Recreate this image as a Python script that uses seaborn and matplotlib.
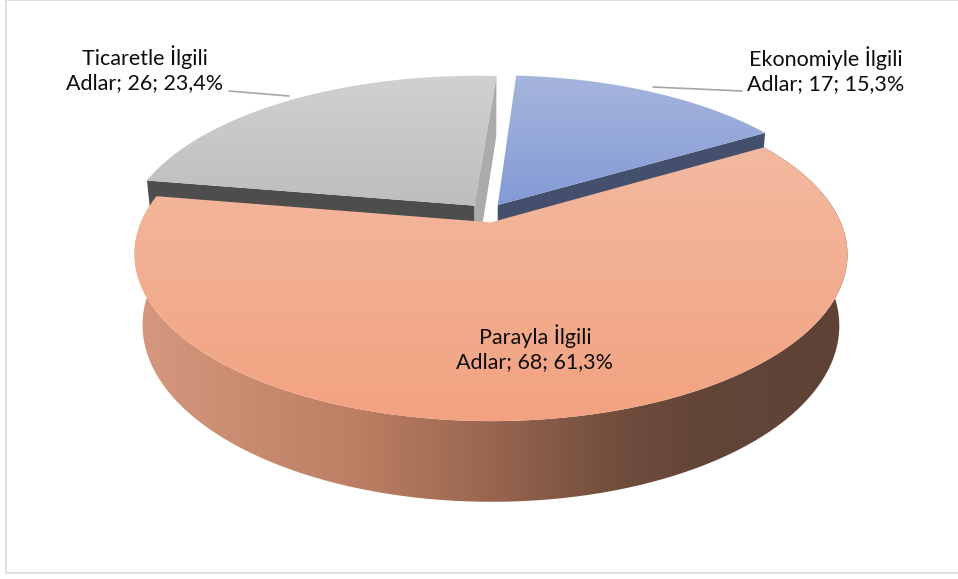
import numpy as np
import matplotlib
matplotlib.use("Agg")
import matplotlib.pyplot as plt
import seaborn as sns
from matplotlib.patches import Polygon, Rectangle

# data
categories = ["Ekonomiyle İlgili", "Parayla İlgili", "Ticaretle İlgili"]
values = [17, 68, 26]
series_name = "Adlar"

sns.set_theme(style="white")
plt.rcParams["font.family"] = ["Lato", "DejaVu Sans"]

W, H = 958, 579
fig = plt.figure(figsize=(W / 100, H / 100), dpi=100)
ax = fig.add_axes([0, 0, 1, 1])
ax.set_xlim(0, W)
ax.set_ylim(H, 0)
ax.axis("off")

# 3D pie geometry (pixels)
CX, CY = 487, 213
S = 346
TH = np.radians(27)
D = 4.7
DEPTH = 0.23
EXPLODE = 0.06
FIRST_ANGLE = 4


def proj(u, v, w, off):
    u = u + off[0]
    v = v + off[1]
    ys = v * np.sin(TH) + w * np.cos(TH)
    d = -v * np.cos(TH) + w * np.sin(TH)
    f = D / (D - d)
    return CX + S * u * f, CY - S * ys * f


def rim(a0, a1, w, off, n=120):
    a = np.radians(np.linspace(a0, a1, n))
    x, y = proj(np.sin(a), np.cos(a), w, off)
    return np.column_stack([x, y])


def grad_fill(poly, stops, vertical=True):
    # gradient image clipped to a polygon
    patch = Polygon(poly, closed=True, facecolor="none", edgecolor="none")
    ax.add_patch(patch)
    pos = np.array([s[0] for s in stops], dtype=float)
    cols = np.array([s[1] for s in stops], dtype=float) / 255
    xs = np.linspace(0, W, 480)
    ys = np.linspace(0, H, 290)
    if vertical:
        g = np.stack([np.interp(ys, pos, cols[:, i]) for i in range(3)], -1)
        img = np.repeat(g[:, None, :], len(xs), axis=1)
    else:
        g = np.stack([np.interp(xs, pos, cols[:, i]) for i in range(3)], -1)
        img = np.repeat(g[None, :, :], len(ys), axis=0)
    im = ax.imshow(img, extent=[0, W, H, 0], origin="upper",
                   interpolation="bilinear", zorder=patch.get_zorder())
    im.set_clip_path(patch)
    return patch


def radial_face(ang, off, color):
    a = np.radians(ang)
    p = [proj(0, 0, 0, off), proj(np.sin(a), np.cos(a), 0, off),
         proj(np.sin(a), np.cos(a), -DEPTH, off), proj(0, 0, -DEPTH, off)]
    ax.add_patch(Polygon(p, closed=True, facecolor=color, edgecolor="none"))


total = sum(values)
pct = [v / total * 100 for v in values]
starts = FIRST_ANGLE + np.concatenate([[0], np.cumsum(values)[:-1]]) / total * 360
ends = FIRST_ANGLE + np.cumsum(values) / total * 360
offs = []
for a0, a1 in zip(starts, ends):
    mid = np.radians((a0 + a1) / 2)
    offs.append((EXPLODE * np.sin(mid), EXPLODE * np.cos(mid)))

top_stops = {
    0: [(75, (166, 181, 221)), (215, (128, 152, 213))],
    1: [(140, (242, 186, 161)), (420, (243, 162, 128))],
    2: [(75, (209, 209, 209)), (215, (188, 188, 188))],
}
side_stops = [(135, (214, 152, 126)), (350, (190, 128, 100)), (500, (150, 100, 78)),
              (620, (112, 77, 61)), (700, (99, 69, 56)), (846, (95, 66, 54))]

# back slices first: Ticaretle, Ekonomiyle
# Ticaretle
i = 2
radial_face(ends[i], offs[i], "#ababab")
radial_face(starts[i], offs[i], "#4d4d4d")
top = np.vstack([[proj(0, 0, 0, offs[i])], rim(starts[i], ends[i], 0, offs[i])])
grad_fill(top, top_stops[i])

# Ekonomiyle
i = 0
radial_face(ends[i], offs[i], "#434f6d")
top = np.vstack([[proj(0, 0, 0, offs[i])], rim(starts[i], ends[i], 0, offs[i])])
grad_fill(top, top_stops[i])

# Parayla (front)
i = 1
side = np.vstack([rim(starts[i], ends[i], 0, offs[i]),
                  rim(starts[i], ends[i], -DEPTH, offs[i])[::-1]])
grad_fill(side, side_stops, vertical=False)
top = np.vstack([[proj(0, 0, 0, offs[i])], rim(starts[i], ends[i], 0, offs[i])])
grad_fill(top, top_stops[i])

# labels
def label(k):
    return f"{categories[k]}\n{series_name}; {values[k]}; {pct[k]:.1f}%".replace(".", ",")

txt = dict(fontsize=15.5, color="#0d0d0d", ha="center", va="center", linespacing=1.25)
ax.text(826, 70, label(0), **txt)
ax.text(145, 69, label(2), **txt)
ax.text(535, 348, label(1), **txt)

# leader lines
ax.plot([653, 742], [87, 91], color="#a6a6a6", lw=1.2)
ax.plot([229, 289], [91, 96], color="#a6a6a6", lw=1.2)

# chart area border
ax.add_patch(Rectangle((6, 0), W, 573, facecolor="none", edgecolor="#d9d9d9", lw=1.2))

fig.savefig("out.png", dpi=100)
